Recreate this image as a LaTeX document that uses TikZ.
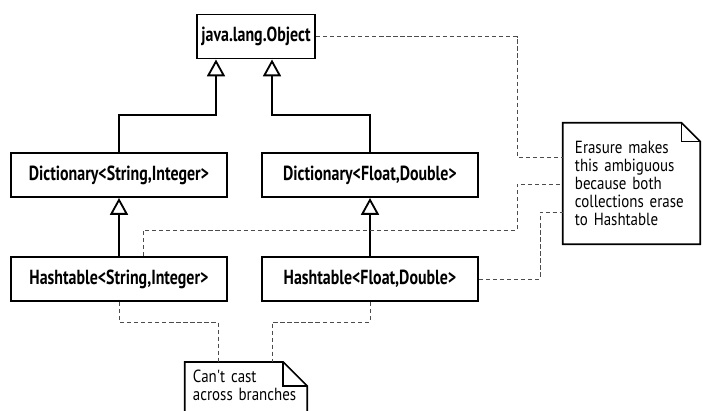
\documentclass[tikz,border=0pt]{standalone}
\usepackage{fontspec}
\setmainfont{PT Sans}
\newfontfamily\umlfont[FakeStretch=0.78]{PT Sans}
\newfontfamily\notefont[FakeStretch=0.85]{PT Sans}
\usetikzlibrary{arrows.meta}
\colorlet{boxcolor}{black}
\colorlet{tethercolor}{black!70}
% outline of a note with a folded top-right corner: #1 node, #2 fold size
\newcommand{\dogear}[2]{%
    \draw[notebox] (#1.south west) -- (#1.north west) -- ([xshift=-#2]#1.north east)
        -- ([yshift=-#2]#1.north east) -- (#1.south east) -- cycle;
    \draw[notebox] ([xshift=-#2]#1.north east) |- ([yshift=-#2]#1.north east);
}

\begin{document}
\begin{tikzpicture}[x=0.025cm, y=-0.025cm,
    classbox/.style={draw=boxcolor, line width=1.4pt, fill=white, minimum height=1.1cm,
        inner sep=2pt, font=\umlfont\bfseries\fontsize{14.5}{16}\selectfont},
    notebox/.style={draw=boxcolor, line width=1.2pt},
    notetext/.style={align=left, inner xsep=0.3cm, font=\notefont\fontsize{12.5}{12.8}\selectfont},
    inherits/.style={line width=1.3pt, -{Triangle[open, width=0.45cm, length=0.42cm, line width=1.3pt]}},
    tether/.style={tethercolor, line width=0.6pt, densely dashed}]
    \useasboundingbox (0,0) rectangle (703,410);

    % --- class boxes ---
    \node[classbox, minimum width=2.95cm] (obj) at (256,36.5) {java.lang.Object};
    \node[classbox, minimum width=5.4cm] (dictsi) at (119,175) {Dictionary<String,Integer>};
    \node[classbox, minimum width=5.4cm] (dictfd) at (370,175) {Dictionary<Float,Double>};
    \node[classbox, minimum width=5.4cm] (hashsi) at (119,279) {Hashtable<String,Integer>};
    \node[classbox, minimum width=5.4cm] (hashfd) at (370,279) {Hashtable<Float,Double>};

    % --- notes ---
    \node[notetext, text width=2.825cm, minimum height=3.025cm] (erasure) at (631.5,183.5)
        {Erasure makes\\this ambiguous\\because both\\collections erase\\to Hashtable};
    \dogear{erasure}{0.47cm}
    % the last empty line runs the note on past the lower edge
    \node[notetext, text width=2.65cm, inner xsep=0.2cm, inner ysep=0.2cm, anchor=north] (cast) at (246,362)
        {Can't cast\\across branches\\\mbox{}};
    \dogear{cast}{0.6cm}

    % --- generalisation ---
    \coordinate (forkL) at (216,115);
    \coordinate (forkR) at (272,115);
    \draw[inherits] (dictsi.north) |- (forkL) -- ([xshift=-1cm]obj.south);
    \draw[inherits] (dictfd.north) |- (forkR) -- ([xshift=0.4cm]obj.south);
    \draw[inherits] (hashsi.north) -- (dictsi.south);
    \draw[inherits] (hashfd.north) -- (dictfd.south);

    % --- note anchors ---
    \coordinate (bendA) at (517,157);
    \coordinate (bendB) at (517,230);
    \coordinate (bendC) at (540,212);
    \draw[tether] (obj.east) -| (bendA) -- (erasure.west |- bendA);
    \draw[tether] ([xshift=0.6cm]hashsi.north) |- (bendB) |- (563,184);
    \draw[tether] (hashfd.east) -| (bendC) -- (erasure.west |- bendC);
    \coordinate (castL) at (218,322);
    \coordinate (castR) at (272,322);
    \draw[tether] (hashsi.south) |- (castL) -- (castL |- cast.north);
    \draw[tether] (hashfd.south) |- (castR) -- (castR |- cast.north);
\end{tikzpicture}
\end{document}
